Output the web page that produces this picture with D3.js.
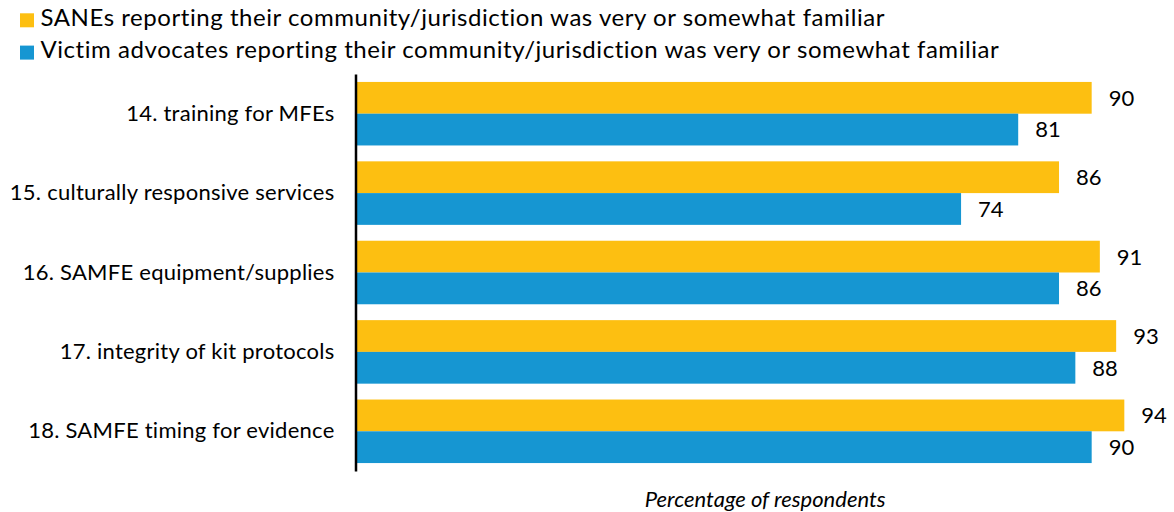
<!DOCTYPE html>
<html>
<head>
<meta charset="utf-8">
<script src="https://cdn.jsdelivr.net/npm/d3@7"></script>
<style>
  html, body { margin: 0; padding: 0; background: #fff; }
  svg { display: block; font-family: Lato, sans-serif; }
</style>
</head>
<body>
<svg id="chart" width="1174" height="512"></svg>
<script>
const categories = [
  "14. training for MFEs",
  "15. culturally responsive services",
  "16. SAMFE equipment/supplies",
  "17. integrity of kit protocols",
  "18. SAMFE timing for evidence"
];
const seriesNames = [
  "SANEs reporting their community/jurisdiction was very or somewhat familiar",
  "Victim advocates reporting their community/jurisdiction was very or somewhat familiar"
];
const sanes = [90, 86, 91, 93, 94];
const advocates = [81, 74, 86, 88, 90];
const colors = ["#fdbf11", "#1696d2"];
const axisTitle = "Percentage of respondents";

const series = [sanes, advocates];
const svg = d3.select("#chart");

const x = d3.scaleLinear().domain([0, 100]).range([357, 1173.3]);
const y = d3.scaleBand().domain(categories).range([74, 471]).paddingInner(0.2).paddingOuter(0.1);
const ySub = d3.scaleBand().domain([0, 1]).range([0, y.bandwidth()]);

// legend
const legend = svg.append("g");
seriesNames.forEach((name, i) => {
  const g = legend.append("g").attr("transform", `translate(20, ${13.3 + i * 32.3})`);
  g.append("rect").attr("width", 14).attr("height", 14).attr("fill", colors[i]);
  g.append("text").attr("x", 20.5).attr("y", 12.8)
    .attr("font-size", 24).attr("letter-spacing", 0.55)
    .attr("fill", "#000").text(name);
});

// bars
const groups = svg.append("g").selectAll("g").data(categories).join("g")
  .attr("transform", d => `translate(0, ${y(d)})`);

groups.each(function(cat, ci) {
  const g = d3.select(this);
  series.forEach((vals, si) => {
    g.append("rect")
      .attr("x", x(0))
      .attr("y", ySub(si))
      .attr("width", x(vals[ci]) - x(0))
      .attr("height", ySub.bandwidth())
      .attr("fill", colors[si]);
    g.append("text")
      .attr("x", x(vals[ci]) + 17)
      .attr("y", ySub(si) + ySub.bandwidth() / 2)
      .attr("dy", "0.36em")
      .attr("font-size", 22)
      .attr("fill", "#000")
      .text(vals[ci]);
  });
});

// y axis
const yAxis = d3.axisLeft(y).tickSize(0).tickPadding(21);
const ya = svg.append("g").attr("transform", "translate(355.5, 0)").call(yAxis);
ya.select(".domain").attr("stroke", "#000").attr("stroke-width", 2.5);
ya.selectAll("text").attr("font-size", 22).attr("letter-spacing", 0.25)
  .attr("font-family", "Lato, sans-serif").attr("fill", "#000");

// axis title
svg.append("text")
  .attr("x", (x.range()[0] + x.range()[1]) / 2)
  .attr("y", 507)
  .attr("text-anchor", "middle")
  .attr("font-size", 22)
  .attr("font-style", "italic")
  .attr("fill", "#000")
  .text(axisTitle);
</script>
</body>
</html>
